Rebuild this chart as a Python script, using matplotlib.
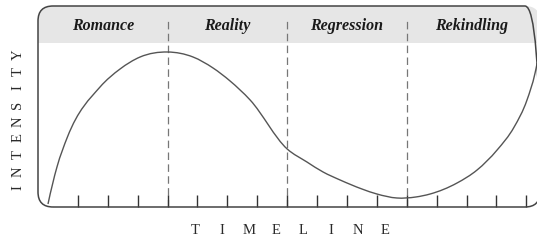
import matplotlib
matplotlib.use('Agg')
import matplotlib.pyplot as plt
import numpy as np
from matplotlib.patches import FancyBboxPatch, PathPatch
from matplotlib.path import Path

# curve: timeline position vs intensity
timeline = [0.0, 0.30, 0.65, 1.74, 2.41, 3.08, 4.0, 4.85, 5.52, 6.09,
            6.76, 8.0, 8.66, 9.2, 9.77, 10.5, 11.0, 11.67, 12.3,
            12.78, 13.68, 14.35, 15.02, 15.59, 16.02, 16.29, 16.36]
intensity = [3, 40, 70, 120, 138, 150, 155, 150, 139, 126,
             107, 58, 45, 35, 27, 18, 13, 9, 10,
             13, 24, 37, 57, 80, 107, 134, 144]

phases = ['Romance', 'Reality', 'Regression', 'Rekindling']
phase_bounds = [4, 8, 12]
tick_positions = list(range(1, 17))

W, H = 537, 241
fig = plt.figure(figsize=(W / 100, H / 100), dpi=100)

def fx(px):
    return px / W

def fy(py):
    return 1 - py / H

def smooth_path(xs, ys):
    '''Cubic Hermite through the points (three-point slopes), as Bezier segments'''
    x = np.asarray(xs, float)
    y = np.asarray(ys, float)
    h = np.diff(x)
    s = np.diff(y) / h
    m = np.empty_like(x)
    m[1:-1] = (s[:-1] * h[1:] + s[1:] * h[:-1]) / (h[:-1] + h[1:])
    m[0] = 2 * s[0] - m[1]
    m[-1] = 2 * s[-1] - m[-2]
    verts = [(x[0], y[0])]
    codes = [Path.MOVETO]
    for i in range(len(x) - 1):
        verts += [(x[i] + h[i] / 3, y[i] + m[i] * h[i] / 3),
                  (x[i + 1] - h[i] / 3, y[i + 1] - m[i + 1] * h[i] / 3),
                  (x[i + 1], y[i + 1])]
        codes += [Path.CURVE4] * 3
    return Path(verts, codes)

# axes spans the frame: left edge x=38px, baseline y=207px, top y=6px
ax = fig.add_axes([fx(38), fy(207), 1 - fx(38), fy(6) - fy(207)])
x0, dx = 48, 29.9
ax.set_xlim((38 - x0) / dx, (537 - x0) / dx)
ax.set_ylim(0, 201)
for s in ax.spines.values():
    s.set_visible(False)
ax.set_yticks([])
ax.set_xticks(tick_positions)
ax.tick_params(axis='x', direction='in', length=8.6, width=1.0, color='#333333',
               labelbottom=False)

# rounded frame (drawn in inches so the corners stay circular)
frame = FancyBboxPatch((0.38, 0.34), 5.40 - 0.38, 2.35 - 0.34,
                       boxstyle='round,pad=0,rounding_size=0.15',
                       transform=fig.dpi_scale_trans, facecolor='none',
                       edgecolor='#444444', linewidth=1.1, clip_on=False, zorder=5)
ax.add_patch(frame)

header = ax.axhspan(207 - 43, 201, color='#e6e6e6', zorder=0, lw=0)
header.set_clip_path(frame)

# phase dividers
for b in phase_bounds:
    ax.axvline(b, ymin=0, ymax=(207 - 20) / 201, color='#777777', lw=0.9,
               ls=(0, (6, 3.5)), zorder=1)

# phase names centred between dividers / frame edges
lo, hi = ax.get_xlim()
edges = [lo] + phase_bounds + [hi]
for i, name in enumerate(phases):
    ax.text((edges[i] + edges[i + 1]) / 2, 207 - 26, name, ha='center', va='center',
            fontfamily='Liberation Serif', fontweight='bold', fontstyle='italic',
            fontsize=11.5, color='#1a1a1a')

ax.add_patch(PathPatch(smooth_path(timeline, intensity), facecolor='none',
                       edgecolor='#555555', lw=1.0, zorder=3))

# spaced-out axis titles
for i, ch in enumerate('TIMELINE'):
    fig.text(fx(195 + i * 27.1), fy(230), ch, ha='center', va='center',
             fontfamily='Liberation Serif', fontsize=10.5, color='#2a2a2a')
for i, ch in enumerate('INTENSITY'):
    fig.text(fx(18), fy(188 - i * 16.7), ch, ha='center', va='center', rotation=90,
             fontfamily='Liberation Serif', fontsize=10.5, color='#2a2a2a')

fig.savefig('out.png', dpi=100)
